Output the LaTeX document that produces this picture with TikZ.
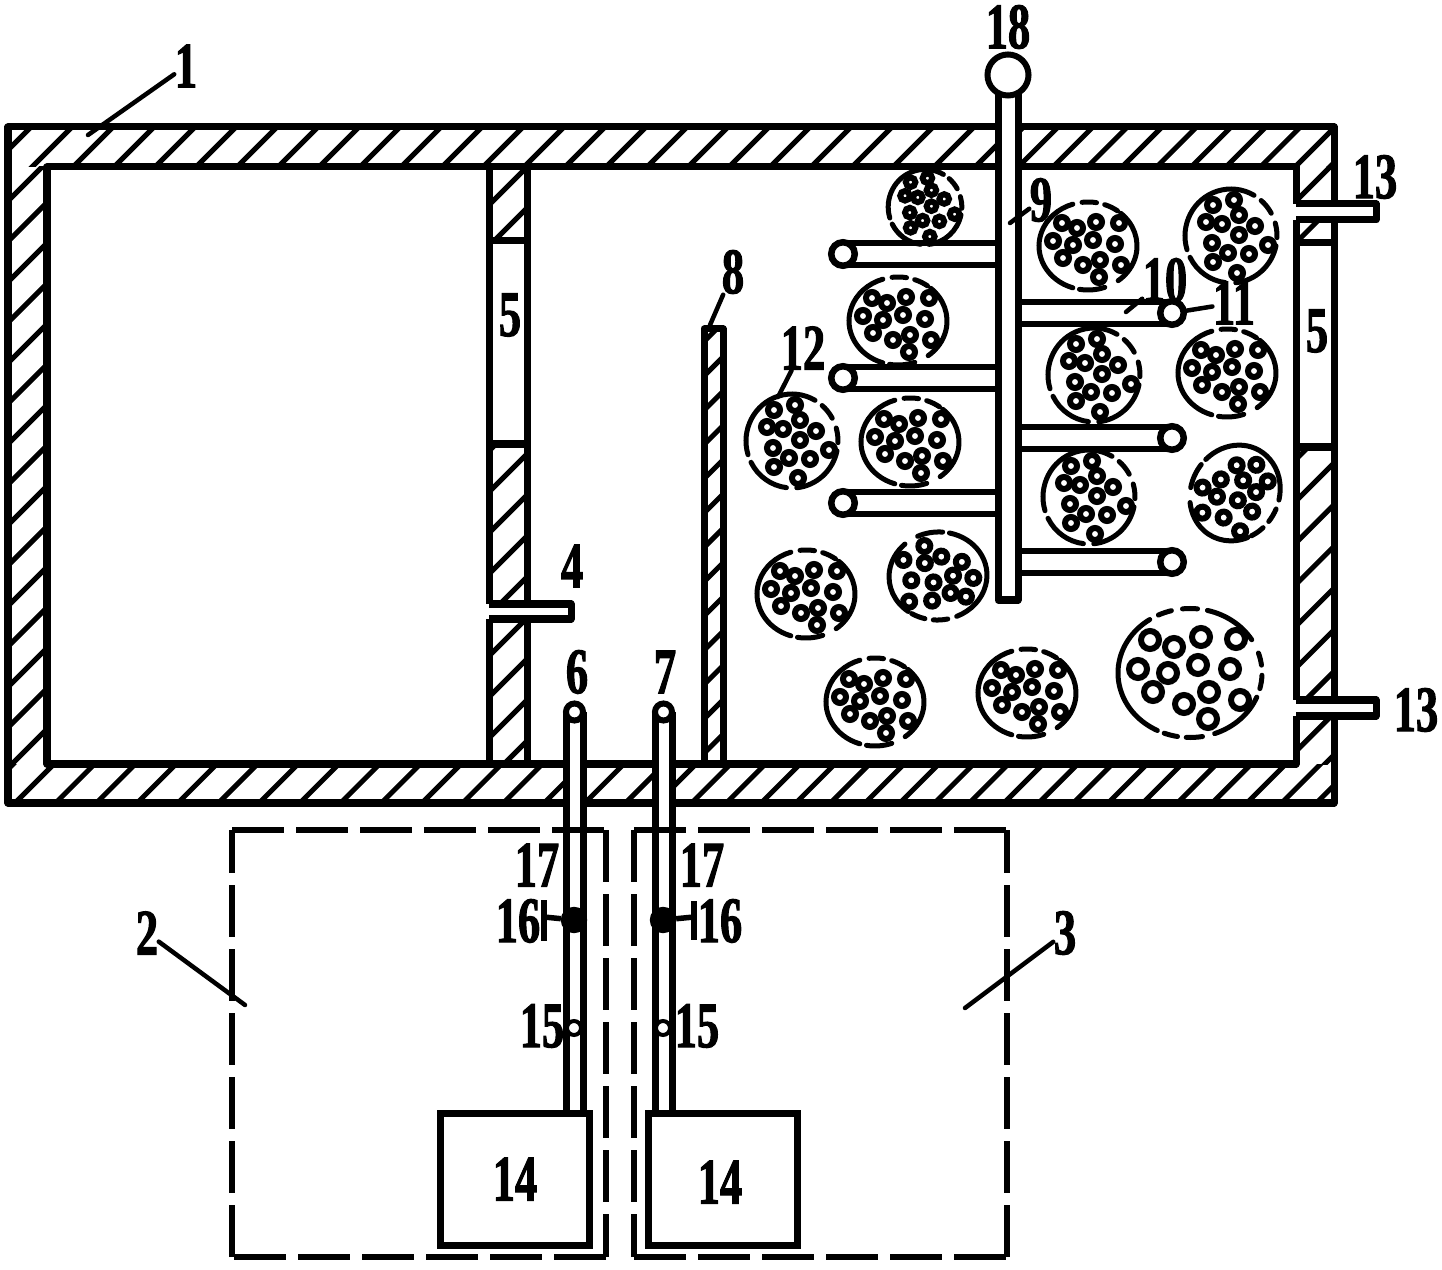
\documentclass[tikz,border=0pt]{standalone}
\usepackage{fontspec}
\setmainfont[FakeStretch=0.68,BoldFeatures={FakeBold=1.6}]{Liberation Serif}
\newcommand{\hatchbox}[6]{%
\begin{scope}
\clip (#1,#2) rectangle (#3,#4);
\foreach \k in {0,...,60} \draw[hatch] ({#5+\k*#6},0) -- ({#5+\k*#6-1300},1300);
\end{scope}}
\newcommand{\ringsA}{-26/-23,-11/-18,8/-24,31/-23,-35/-5,-15/-1,5/-6,27/-2,-25/12,-5/19,12/14,33/19,11/31}
\newcommand{\ringsB}{-18/-31,3/-36,8/-21,-25/-14,-9/-12,24/-10,8/-1,-19/7,-3/17,37/9,18/18,-18/26,6/37}
\newcommand{\ringsC}{-40/-33,-16/-26,11/-36,46/-34,-52/-4,-22/0,8/-8,40/-4,-37/19,19/19,-6/31,50/27,18/46}
\tikzset{
hatch/.style={line width=.05cm},
wall/.style={line width=.07cm,line join=round},
thin tube/.style={line width=.055cm},
shell/.style={line width=.05cm,line cap=round},
ring/.style={line width=.06cm},
dash box/.style={line width=.065cm,dash pattern=on .52cm off .12cm},
leader/.style={line width=.045cm,line cap=round},
lab/.style={inner sep=0pt,font=\fontsize{18.5}{20}\selectfont\bfseries},
port/.style={circle,draw,fill=white,line width=.065cm,inner sep=0pt,minimum size=.235cm},
top port/.style={circle,draw,fill=white,line width=.06cm,inner sep=0pt,minimum size=.17cm},
head/.style={circle,draw,fill=white,line width=.06cm,inner sep=0pt,minimum size=.41cm},
valve/.style={circle,draw,fill=black,inner sep=0pt,minimum size=.25cm},
gauge/.style={circle,draw,fill=white,line width=.04cm,inner sep=0pt,minimum size=.14cm},
tank/.style={draw,line width=.07cm,inner sep=0pt,minimum width=1.48cm,minimum height=1.31cm}
}
\begin{document}
\begin{tikzpicture}[x=.01cm,y=-.01cm]
\useasboundingbox (0,0) rectangle (1442,1270);

\hatchbox{8}{127}{998}{167}{35}{41}
\hatchbox{1018}{127}{1334}{167}{43.4}{34.6}
\hatchbox{8}{167}{47}{764}{47}{40.5}
\hatchbox{1296}{167}{1334}{243}{37.5}{41.7}
\hatchbox{1296}{447}{1334}{764}{3.9}{41.7}
\hatchbox{8}{764}{655}{803}{4}{40.7}
\hatchbox{672}{764}{1334}{803}{37.3}{34.7}
\hatchbox{489}{167}{527}{241}{38}{41}
\hatchbox{489}{444}{527}{604}{38}{41}
\hatchbox{489}{619}{527}{764}{38}{41}
\hatchbox{704}{329}{723}{764}{16.7}{34.3}

\draw[wall] (8,127) rectangle (1334,803);
\draw[wall] (47,167) rectangle (1296,764);
\draw[wall] (489,167) -- (489,764);
\draw[wall] (527,167) -- (527,764);
\draw[wall] (489,241) -- (527,241);
\draw[wall] (489,444) -- (527,444);
\draw[wall] (1296,243) -- (1334,243);
\draw[wall] (1296,447) -- (1334,447);
\draw[wall] (704,764) -- (704,329) -- (723,329) -- (723,764);

\fill[white] (484,604) rectangle (571,619);
\draw[wall] (489,604) -- (571,604) -- (571,619) -- (489,619);
\foreach \y in {204,700} {
\fill[white] (1291,\y) rectangle (1376,\y+16);
\draw[wall] (1296,\y) -- (1376,\y) -- (1376,\y+16) -- (1296,\y+16);
}

\fill[white] (998,95) rectangle (1018,600);
\draw[wall] (998,90) -- (998,600) -- (1018,600) -- (1018,90);
\node[head] (head18) at (1008,75) {};
\foreach \y/\n in {254/a,378/b,503/c} {
\draw[thin tube] (843,\y-11) -- (998,\y-11);
\draw[thin tube] (843,\y+11) -- (998,\y+11);
\node[port] (port\n) at (843,\y) {};
}
\foreach \y/\n in {313/d,438/e,562/f} {
\draw[thin tube] (1018,\y-11) -- (1172,\y-11);
\draw[thin tube] (1018,\y+11) -- (1172,\y+11);
\node[port] (port\n) at (1172,\y) {};
}

\foreach \x/\n in {574.5/6,663.5/7} {
\fill[white] (\x-8.5,712) rectangle (\x+8.5,1114);
\draw[wall] (\x-8.5,712) -- (\x-8.5,1114);
\draw[wall] (\x+8.5,712) -- (\x+8.5,1114);
\node[top port] (top\n) at (\x,712) {};
}
\node[tank] (tank1) at (515,1179.5) {};
\node[tank] (tank2) at (723,1179.5) {};

\foreach \x/\y/\r in {1088/246/0,898/321/0,1227/373/0,910/442/0,1235/493/-119,806/594/0,938/576/-175,875/702/0,1027/693/0} {
\begin{scope}[shift={(\x,\y)},rotate=\r]
\foreach \u/\v in \ringsA \draw[ring] (\u,\v) circle (6);
\foreach \a/\b in {108/252,263/280,290/307,312/412,430/460}
\draw[shell] (\a:49 and 44) arc [start angle=\a,end angle=\b,x radius=49,y radius=44];
\end{scope}
}
\foreach \x/\y/\s in {1231/236/1,1094/375/1,792/441/1,1089/497/1,925/207/.8} {
\begin{scope}[shift={(\x,\y)},scale=\s]
\foreach \u/\v in \ringsB \draw[ring] (\u,\v) circle (6);
\foreach \a/\b in {97/153,163/300,311/331,344/362,372/444}
\draw[shell] (\a:46 and 47) arc [start angle=\a,end angle=\b,x radius=46,y radius=47];
\end{scope}
}
\begin{scope}[shift={(1190,673)}]
\foreach \u/\v in \ringsC \draw[ring] (\u,\v) circle (9);
\foreach \a/\b in {117/236,244/255,264/276,284/329,342/353,362/374,382/430,440/453,460/471}
\draw[shell] (\a:72 and 64.5) arc [start angle=\a,end angle=\b,x radius=72,y radius=64.5];
\end{scope}

\draw[dash box] (232,830) -- (606,830) (606,830) -- (606,1257) (606,1257) -- (232,1257) (232,1257) -- (232,830);
\draw[dash box] (634,830) -- (1007,830) (634,830) -- (634,1257) (634,1257) -- (1007,1257) (1007,1257) -- (1007,830);

\node[valve] (valve1) at (574,920) {};
\node[valve] (valve2) at (663,920) {};
\coordinate (stem1) at (544,917);
\coordinate (stem2) at (694,917);
\draw[thin tube] (valve1) -- (stem1);
\draw[thin tube] (valve2) -- (stem2);
\draw[thin tube] (544,900) -- (544,941);
\draw[thin tube] (694,901) -- (694,940);
\node[gauge] (gauge1) at (574,1028) {};
\node[gauge] (gauge2) at (663,1028) {};

\node[lab] (lab1) at (186,66) {1};
\node[lab] (lab2) at (147,933) {2};
\node[lab] (lab3) at (1065,933) {3};
\node[lab] (lab4) at (572,566) {4};
\node[lab] (lab5a) at (510,315) {5};
\node[lab] (lab5b) at (1317,331) {5};
\node[lab] (lab6) at (577,672) {6};
\node[lab] (lab7) at (665,672) {7};
\node[lab] (lab8) at (733,272) {8};
\node[lab] (lab9) at (1041,200) {9};
\node[lab] (lab10) at (1165,280) {10};
\node[lab] (lab11) at (1234,303) {11};
\node[lab] (lab12) at (803,348) {12};
\node[lab] (lab13a) at (1375,177) {13};
\node[lab] (lab13b) at (1416,710) {13};
\node[lab] (lab14a) at (515,1179) {14};
\node[lab] (lab14b) at (720,1182) {14};
\node[lab] (lab15a) at (542,1026) {15};
\node[lab] (lab15b) at (697,1026) {15};
\node[lab] (lab16a) at (518,921) {16};
\node[lab] (lab16b) at (720,921) {16};
\node[lab] (lab17a) at (537,865) {17};
\node[lab] (lab17b) at (702,865) {17};
\node[lab] (lab18) at (1008,27) {18};

\coordinate (end1) at (88,135);
\coordinate (end2) at (245,1005);
\coordinate (end3) at (965,1008);
\coordinate (end8) at (710,325);
\coordinate (end9) at (1010,223);
\coordinate (end10) at (1126,312);
\coordinate (end12) at (778,397);
\draw[leader] (end1) -- (lab1);
\draw[leader] (end2) -- (lab2);
\draw[leader] (end3) -- (lab3);
\draw[leader] (end8) -- (lab8);
\draw[leader] (end9) -- (lab9);
\draw[leader] (end10) -- (lab10);
\draw[leader] (end12) -- (lab12);
\draw[leader] (portd) -- (lab11);
\end{tikzpicture}
\end{document}
